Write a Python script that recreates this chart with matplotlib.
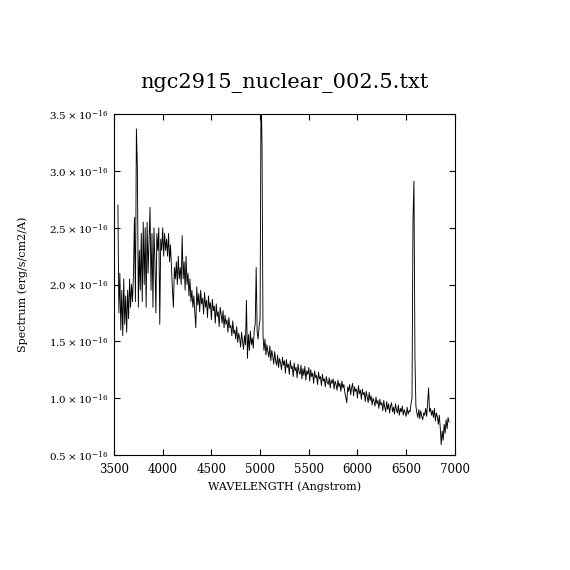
import matplotlib
matplotlib.use('Agg')
import matplotlib.pyplot as plt
import numpy as np

plt.rcParams['font.family'] = ['DejaVu Serif']
plt.rcParams['mathtext.fontset'] = 'dejavuserif'

# flux in units of 1e-16 erg/s/cm2/A, one value per 10 A starting at 3540 A
start_wave = 3540
step_wave = 10
flux = [
    2.70, 1.75, 2.10, 1.60, 1.95, 1.55, 2.05, 1.65, 1.90, 1.58,  # 3540
    1.95, 1.70, 2.05, 1.80, 2.00, 1.85, 2.10, 2.59, 1.85, 3.37,  # 3640
    3.03, 1.80, 2.30, 1.95, 2.45, 1.85, 2.55, 2.00, 2.50, 1.80,  # 3740
    2.55, 2.10, 2.40, 2.68, 1.95, 2.45, 1.80, 2.50, 2.20, 1.75,  # 3840
    2.45, 2.30, 2.50, 1.65, 2.40, 2.30, 2.50, 2.25, 2.45, 2.30,  # 3940
    2.40, 2.25, 2.45, 2.20, 2.35, 2.15, 1.95, 1.80, 2.15, 2.05,  # 4040
    2.20, 2.00, 2.25, 2.05, 2.15, 2.00, 2.43, 2.05, 2.20, 1.95,  # 4140
    2.25, 2.00, 2.10, 1.90, 2.05, 1.85, 1.95, 1.80, 1.90, 1.75,  # 4240
    1.62, 1.98, 1.82, 1.92, 1.76, 1.95, 1.83, 1.88, 1.74, 1.93,  # 4340
    1.80, 1.86, 1.71, 1.90, 1.79, 1.84, 1.69, 1.87, 1.77, 1.81,  # 4440
    1.66, 1.83, 1.72, 1.76, 1.63, 1.80, 1.74, 1.66, 1.77, 1.62,  # 4540
    1.73, 1.65, 1.69, 1.58, 1.71, 1.62, 1.64, 1.55, 1.68, 1.57,  # 4640
    1.60, 1.52, 1.63, 1.49, 1.57, 1.53, 1.45, 1.58, 1.50, 1.43,  # 4740
    1.55, 1.47, 1.86, 1.35, 1.56, 1.42, 1.59, 1.47, 1.53, 1.44,  # 4840
    1.60, 1.65, 2.15, 1.58, 1.52, 1.63, 1.70, 3.75, 3.22, 1.55,  # 4940
    1.42, 1.52, 1.38, 1.47, 1.41, 1.36, 1.46, 1.33, 1.42, 1.37,  # 5040
    1.30, 1.41, 1.33, 1.29, 1.38, 1.27, 1.35, 1.31, 1.25, 1.36,  # 5140
    1.29, 1.33, 1.22, 1.34, 1.27, 1.30, 1.21, 1.33, 1.26, 1.28,  # 5240
    1.19, 1.31, 1.24, 1.27, 1.18, 1.30, 1.23, 1.21, 1.29, 1.17,  # 5340
    1.26, 1.20, 1.28, 1.16, 1.24, 1.21, 1.27, 1.15, 1.25, 1.19,  # 5440
    1.22, 1.13, 1.24, 1.18, 1.20, 1.12, 1.23, 1.17, 1.19, 1.11,  # 5540
    1.21, 1.15, 1.17, 1.10, 1.19, 1.14, 1.12, 1.18, 1.09, 1.16,  # 5640
    1.13, 1.17, 1.08, 1.15, 1.12, 1.07, 1.16, 1.10, 1.13, 1.06,  # 5740
    1.15, 1.09, 1.12, 1.05, 1.01, 0.96, 1.10, 1.06, 1.12, 1.03,  # 5840
    1.09, 1.13, 1.02, 1.10, 1.06, 1.08, 1.00, 1.11, 1.04, 1.07,  # 5940
    0.99, 1.08, 1.03, 1.05, 0.97, 1.06, 1.01, 0.96, 1.05, 0.98,  # 6040
    1.02, 0.94, 1.00, 0.97, 0.93, 1.01, 0.95, 0.98, 0.91, 0.99,  # 6140
    0.94, 0.96, 0.89, 0.98, 0.92, 0.88, 0.97, 0.90, 0.95, 0.87,  # 6240
    0.93, 0.96, 0.88, 0.92, 0.86, 0.95, 0.90, 0.87, 0.94, 0.85,  # 6340
    0.91, 0.88, 0.93, 0.85, 0.90, 0.87, 0.84, 0.92, 0.86, 0.89,  # 6440
    0.88, 0.95, 1.00, 2.57, 2.91, 1.36, 0.93, 0.87, 0.83, 0.90,  # 6540
    0.82, 0.89, 0.84, 0.81, 0.87, 0.85, 0.91, 0.84, 0.95, 1.09,  # 6640
    0.88, 0.91, 0.85, 0.89, 0.83, 0.91, 0.80, 0.87, 0.84, 0.77,  # 6740
    0.85, 0.74, 0.59, 0.71, 0.63, 0.77, 0.69, 0.81, 0.73, 0.83,  # 6840
    0.79,                                                        # 6940
]
wave = start_wave + step_wave * np.arange(len(flux))

xticks = [3500, 4000, 4500, 5000, 5500, 6000, 6500, 7000]
yticks = [0.5, 1.0, 1.5, 2.0, 2.5, 3.0, 3.5]

fig = plt.figure(figsize=(5.7, 5.7), dpi=100)
fig.patch.set_facecolor('white')
ax = fig.add_axes([0.2, 0.2018, 0.598, 0.598])

ax.plot(wave, np.array(flux) * 1e-16, color='black', lw=0.65)

ax.set_xlim(3500, 7000)
ax.set_ylim(0.5e-16, 3.5e-16)
ax.set_xticks(xticks)
ax.set_xticklabels([str(t) for t in xticks], fontsize=8.5)
ax.set_yticks([v * 1e-16 for v in yticks])
ax.set_yticklabels([r'$%.1f\times10^{-16}$' % v for v in yticks], fontsize=7.5)
ax.tick_params(direction='in', length=4, width=0.8, top=True, right=True)
ax.tick_params(axis='x', pad=6)
ax.tick_params(axis='y', pad=4)
for s in ax.spines.values():
    s.set_linewidth(0.8)

ax.set_xlabel('WAVELENGTH (Angstrom)', fontsize=8, labelpad=4)
ax.set_ylabel('Spectrum (erg/s/cm2/A)', fontsize=8, labelpad=15)
ax.set_title('ngc2915_nuclear_002.5.txt', fontsize=15, pad=19)

fig.savefig('out.png', dpi=100, facecolor='white')
